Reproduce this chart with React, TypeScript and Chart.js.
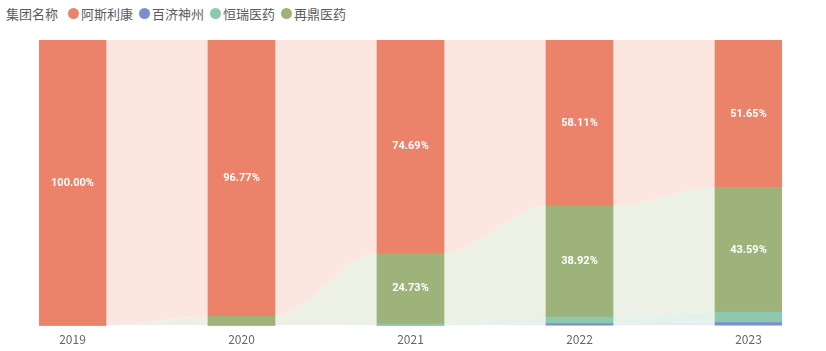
import React, { useEffect, useRef } from 'react';
import { Chart, registerables } from 'chart.js';

Chart.register(...registerables);

// ---- data ----
const years = ['2019', '2020', '2021', '2022', '2023'];
const seriesNames = ['阿斯利康', '百济神州', '恒瑞医药', '再鼎医药'];
const azValues = [100, 96.77, 74.69, 58.11, 51.65];       // 阿斯利康
const beigeneValues = [0, 0, 0.08, 0.72, 1.07];          // 百济神州
const hengruiValues = [0, 0, 0.5, 2.25, 3.69];           // 恒瑞医药
const zaiValues = [0, 3.23, 24.73, 38.92, 43.59];        // 再鼎医药

// ---- styles ----
const barColors = ['#eb836a', '#7b8fcb', '#8ec8ae', '#9db37a'];
const ribbonColors = ['#fbe6e0', '#e6e9f6', '#e3f2eb', '#edf1e5'];
const FONT = '"Noto Sans CJK SC", "Noto Sans", sans-serif';
const HALF = 0.198; // half bar width in category units
const BAR_PX = 67;

export default function App() {
  const ref = useRef<HTMLCanvasElement | null>(null);

  useEffect(() => {
    document.body.style.margin = '0';
    const canvas = ref.current;
    if (!canvas) return;

    // stacking order bottom -> top: 百济神州, 恒瑞医药, 再鼎医药, 阿斯利康
    const stackOrder = [
      { vals: beigeneValues, color: barColors[1], ribbon: ribbonColors[1], label: false },
      { vals: hengruiValues, color: barColors[2], ribbon: ribbonColors[2], label: false },
      { vals: zaiValues, color: barColors[3], ribbon: ribbonColors[3], label: true },
      { vals: azValues, color: barColors[0], ribbon: ribbonColors[0], label: true },
    ];
    const lows: number[][] = [];
    const highs: number[][] = [];
    let acc = years.map(() => 0);
    stackOrder.forEach((s) => {
      lows.push(acc.slice());
      acc = acc.map((a, i) => a + s.vals[i]);
      highs.push(acc.slice());
    });

    const lineSets: any[] = stackOrder.map((s, k) => {
      const pts: { x: number; y: number }[] = [];
      years.forEach((_, i) => {
        pts.push({ x: i - HALF, y: Math.min(100, highs[k][i]) });
        pts.push({ x: i + HALF, y: Math.min(100, highs[k][i]) });
      });
      return {
        type: 'line',
        data: pts,
        borderWidth: 0,
        pointRadius: 0,
        backgroundColor: s.ribbon,
        fill: k === 0 ? 'origin' : '-1',
        cubicInterpolationMode: 'monotone',
        order: 1,
      };
    });

    const barSets: any[] = stackOrder.map((s, k) => ({
      type: 'bar',
      data: years.map((_, i) => ({ x: i, y: [lows[k][i], Math.min(100, highs[k][i])] })),
      backgroundColor: s.color,
      borderWidth: 0,
      barThickness: BAR_PX,
      stack: 'bars',
      order: 0,
    }));

    const labelPlugin = {
      id: 'barLabels',
      afterDatasetsDraw(chart: any) {
        const ctx = chart.ctx;
        ctx.save();
        ctx.fillStyle = '#ffffff';
        ctx.font = 'bold 11px Roboto, sans-serif';
        ctx.textAlign = 'center';
        ctx.textBaseline = 'middle';
        stackOrder.forEach((s, k) => {
          if (!s.label) return;
          const meta = chart.getDatasetMeta(lineSets.length + k);
          meta.data.forEach((el: any, i: number) => {
            const v = s.vals[i];
            if (v < 10) return;
            ctx.fillText(v.toFixed(2) + '%', el.x, (el.y + el.base) / 2);
          });
        });
        ctx.restore();
      },
    };

    const chart = new Chart(canvas, {
      type: 'bar',
      data: { datasets: [...lineSets, ...barSets] },
      options: {
        responsive: false,
        animation: false,
        layout: { padding: { top: 40, left: 39, right: 44, bottom: -3 } },
        plugins: { legend: { display: false }, tooltip: { enabled: false } },
        scales: {
          x: {
            type: 'linear',
            offset: false,
            min: -HALF,
            max: years.length - 1 + HALF,
            stacked: true,
            grid: { display: false, drawTicks: false, offset: false },
            border: { display: false },
            afterBuildTicks: (scale: any) => {
              scale.ticks = years.map((_, i) => ({ value: i }));
            },
            ticks: {
              padding: 7,
              color: '#666666',
              maxRotation: 0,
              font: { size: 12, family: FONT },
              callback: (v: any) => years[v] ?? '',
            },
          },
          y: { display: false, min: 0, max: 100, stacked: false },
        },
      } as any,
      plugins: [labelPlugin],
    } as any);

    return () => chart.destroy();
  }, []);

  const legendColors = [barColors[0], barColors[1], barColors[2], barColors[3]];

  return (
    <div style={{ position: 'fixed', left: 0, top: 0, width: 826, height: 351, background: '#fff' }}>
      <div
        style={{
          position: 'absolute',
          left: 6,
          top: 4,
          height: 18,
          display: 'flex',
          alignItems: 'center',
          fontFamily: FONT,
          fontSize: 13,
          color: '#5c5c5c',
          whiteSpace: 'nowrap',
        }}
      >
        <span style={{ marginRight: 10 }}>集团名称</span>
        {seriesNames.map((n, i) => (
          <span key={n} style={{ display: 'flex', alignItems: 'center', marginRight: 6 }}>
            <span
              style={{
                display: 'inline-block',
                width: 11,
                height: 11,
                borderRadius: '50%',
                background: legendColors[i],
                marginRight: 2,
              }}
            />
            <span>{n}</span>
          </span>
        ))}
      </div>
      <canvas ref={ref} width={826} height={351} style={{ position: 'absolute', left: 0, top: 0 }} />
    </div>
  );
}
